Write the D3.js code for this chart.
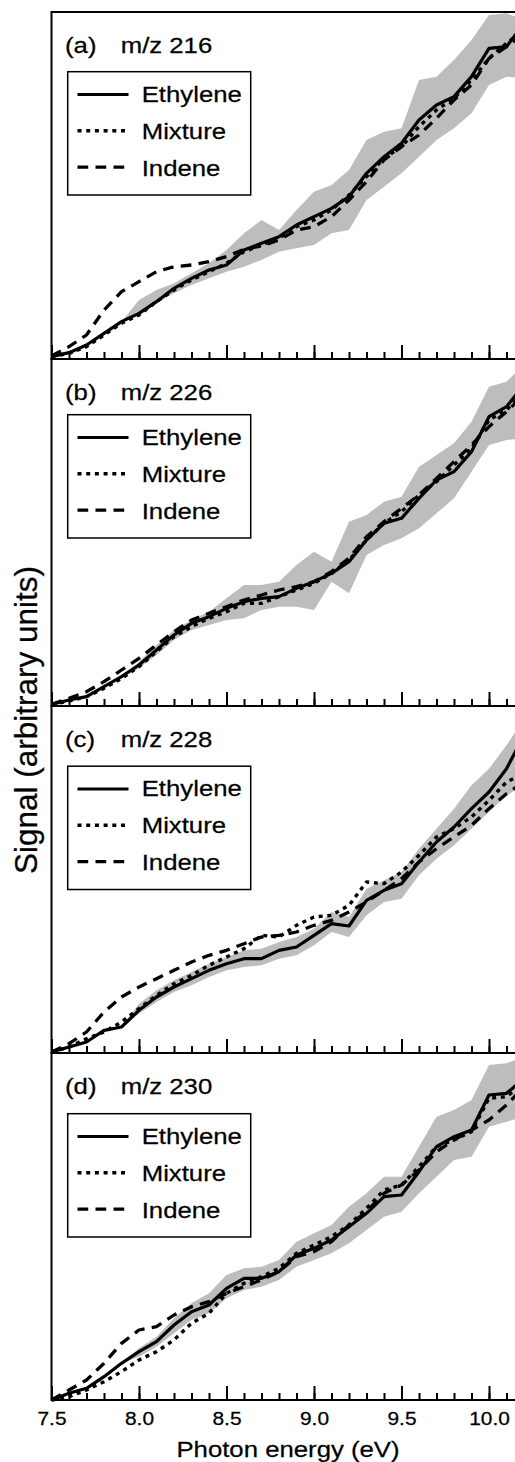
<!DOCTYPE html>
<html>
<head>
<meta charset="utf-8">
<script src="https://cdn.jsdelivr.net/npm/d3@7.9.0/dist/d3.min.js"></script>
<style>
  html, body { margin: 0; padding: 0; background: #fff; }
  svg { display: block; font-family: "Liberation Sans", Arial, Helvetica, sans-serif; }
  svg text { fill: #000; stroke: #000; stroke-width: 0.25px; }
</style>
</head>
<body>
<svg id="chart" width="515" height="1462"></svg>
<script>
// photon energy grid (eV)
const energy = [7.5, 7.6, 7.7, 7.8, 7.9, 8.0, 8.1, 8.2, 8.3, 8.4, 8.5, 8.6, 8.7, 8.8,
  8.9, 9.0, 9.1, 9.2, 9.3, 9.4, 9.5, 9.6, 9.7, 9.8, 9.9, 10.0, 10.1, 10.2];

const panelTags = ['(a)', '(b)', '(c)', '(d)'];
const massLabels = ['m/z 216', 'm/z 226', 'm/z 228', 'm/z 230'];
const seriesNames = ['Ethylene', 'Mixture', 'Indene'];
const majorTicks = [7.5, 8.0, 8.5, 9.0, 9.5, 10.0];

// (a) m/z 216
const ethyleneA = [0.7, 1.9, 4.2, 7.7, 11.2, 13.7, 17.2, 21.2, 24.2, 26.7, 28.2, 32.7, 34.7, 36.7,
  40.2, 42.7, 45.2, 48.7, 55.7, 60.7, 64.7, 71.7, 76.2, 78.7, 84.7, 93.2, 93.7, 100.7];
const mixtureA = [0.7, 1.7, 3.7, 7.2, 10.7, 13.2, 17.2, 20.7, 23.7, 26.2, 28.7, 32.2, 34.2, 36.2,
  39.7, 41.7, 44.7, 49.2, 54.7, 60.2, 63.7, 69.7, 74.7, 78.2, 83.7, 90.2, 94.7, 98.7];
const indeneA = [0.9, 3.7, 7.2, 14.7, 20.2, 23.2, 26.2, 27.7, 28.2, 29.2, 30.7, 32.9, 33.9, 35.7,
  38.7, 39.7, 42.7, 47.7, 53.2, 59.7, 63.7, 67.2, 72.2, 77.7, 82.2, 90.2, 93.7, 97.7];
const bandLowA = [0.7, 1.9, 4.2, 7.7, 11.2, 13.2, 16.7, 19.7, 22.2, 24.2, 26.2, 27.7, 29.7, 32.2,
  33.2, 34.2, 37.7, 38.7, 47.7, 51.7, 55.7, 60.7, 65.7, 69.2, 73.7, 82.2, 84.7, 84.2];
const bandHighA = [0.7, 1.9, 4.2, 7.7, 11.2, 17.7, 20.7, 22.7, 25.7, 28.7, 32.7, 37.7, 41.7, 38.7,
  44.7, 50.2, 52.2, 56.7, 65.7, 68.2, 69.2, 83.7, 84.7, 89.7, 95.7, 103.2, 103.7, 101.7];

// (b) m/z 226
const ethyleneB = [0.5, 1.8, 2.8, 5.8, 8.8, 12.3, 16.8, 21.3, 24.8, 26.8, 29.3, 31.3, 32.3, 32.8,
  35.3, 37.3, 39.8, 43.3, 49.8, 54.8, 56.3, 62.3, 67.8, 70.3, 76.3, 86.8, 89.8, 96.3];
const mixtureB = [0.5, 1.5, 2.8, 5.3, 8.3, 11.8, 16.3, 20.8, 23.8, 26.3, 28.3, 30.8, 30.8, 32.8,
  34.8, 36.8, 39.8, 43.8, 49.8, 54.8, 58.3, 63.3, 67.3, 72.3, 77.3, 85.8, 88.8, 94.3];
const indeneB = [0.5, 2.3, 4.3, 7.3, 10.8, 14.3, 18.3, 22.3, 25.8, 27.8, 29.8, 31.8, 33.3, 34.8,
  35.8, 37.3, 40.3, 44.3, 50.8, 55.3, 59.3, 63.3, 68.3, 73.3, 78.3, 83.8, 88.3, 93.3];
const bandLowB = [0.5, 1.8, 2.8, 5.8, 8.8, 11.3, 15.3, 19.8, 22.8, 24.3, 25.8, 26.3, 28.8, 29.8,
  29.8, 28.8, 37.3, 33.8, 45.3, 48.3, 50.3, 53.3, 57.8, 62.3, 70.3, 78.3, 79.8, 80.3];
const bandHighB = [0.5, 1.8, 2.8, 5.8, 8.8, 13.3, 18.3, 22.8, 25.8, 28.3, 32.3, 36.3, 36.3, 37.3,
  42.3, 46.3, 43.3, 55.3, 57.3, 61.3, 62.8, 71.8, 75.3, 78.8, 85.3, 95.8, 97.3, 102.3];

// (c) m/z 228
const ethyleneC = [0.3, 1.8, 3.3, 6.8, 7.8, 12.8, 16.8, 19.8, 22.3, 24.8, 26.8, 28.3, 28.3, 30.8,
  31.8, 35.3, 38.8, 38.1, 45.8, 48.8, 50.8, 57.3, 63.3, 67.8, 73.3, 78.3, 85.3, 95.3];
const mixtureC = [0.3, 1.8, 4.3, 6.3, 9.3, 13.3, 17.3, 20.8, 23.3, 26.3, 28.8, 31.3, 35.3, 34.8,
  38.3, 40.8, 41.3, 44.3, 51.3, 50.8, 54.3, 59.3, 64.8, 67.3, 70.8, 75.8, 81.3, 83.8];
const indeneC = [0.3, 2.8, 6.3, 12.3, 16.8, 19.8, 22.3, 24.8, 27.3, 29.3, 30.8, 32.8, 34.8, 35.3,
  36.3, 38.3, 39.8, 42.3, 45.3, 48.8, 52.3, 57.3, 61.3, 64.8, 68.3, 73.3, 77.8, 81.3];
const bandLowC = [0.3, 1.8, 3.3, 6.8, 7.8, 11.8, 15.3, 18.3, 20.3, 22.8, 24.8, 25.8, 26.3, 28.3,
  29.3, 32.3, 36.3, 34.8, 41.3, 45.3, 46.3, 53.3, 58.3, 62.3, 67.3, 72.3, 77.3, 80.3];
const bandHighC = [0.3, 1.8, 3.3, 6.8, 7.8, 14.8, 18.8, 21.8, 24.3, 26.8, 28.8, 30.8, 31.3, 33.3,
  34.8, 37.3, 42.3, 40.8, 49.3, 51.8, 54.3, 61.3, 67.3, 73.3, 80.3, 85.3, 92.3, 100.3];

// (d) m/z 230
const ethyleneD = [0, 2, 3.5, 7, 11, 14.5, 17.5, 22.5, 26.5, 28.5, 33.5, 36.5, 36.5, 38.5,
  43.5, 45.5, 48, 52, 56, 61, 61.5, 68.5, 76, 79, 81, 91.5, 92, 96.5];
const mixtureD = [0, 1, 3, 5.5, 8.5, 12, 14.5, 18, 23, 26, 32, 35, 37, 39.5,
  44, 46.5, 49, 52.5, 57.5, 63, 64.5, 70, 76, 78, 80.5, 90.5, 91, 95];
const indeneD = [0, 3, 6, 11, 17, 21, 22, 25.5, 28, 29.5, 32, 34, 36, 38.5,
  43, 44.5, 47.5, 52.5, 56.5, 62, 64.5, 69, 74.5, 78, 81, 84, 88.5, 94];
const bandLowD = [0, 2, 3.5, 7, 11, 13, 16, 20, 24, 26, 30.5, 33, 34, 36,
  40, 42, 44, 47, 51, 55, 56.5, 62, 67, 72, 73, 82, 83.5, 85];
const bandHighD = [0, 2, 3.5, 7, 11, 15.5, 19, 24.5, 29, 32, 37.5, 39.5, 40, 42,
  47.5, 50, 52.5, 58, 62, 67, 67, 76, 85, 87, 90, 100.5, 101, 103];

const panelSeries = [
  { lines: [ethyleneA, mixtureA, indeneA], low: bandLowA, high: bandHighA, legendDy: 0 },
  { lines: [ethyleneB, mixtureB, indeneB], low: bandLowB, high: bandHighB, legendDy: -4 },
  { lines: [ethyleneC, mixtureC, indeneC], low: bandLowC, high: bandHighC, legendDy: 0.5 },
  { lines: [ethyleneD, mixtureD, indeneD], low: bandLowD, high: bandHighD, legendDy: 1 }
];

const dashes = [null, '4,4.7', '10.7,7.3'];
const widths = [3.2, 3.4, 3.3];
const stretch = 'scale(1.17,1)';

const svg = d3.select('#chart');
const left = 51.5;
const firstTop = 12;
const panelH = 347;

const x = d3.scaleLinear().domain([7.5, 10.2]).range([left, 524]);

panelSeries.forEach((p, i) => {
  const top = firstTop + i * panelH;
  const bottom = top + panelH;
  const y = d3.scaleLinear().domain([0, 104.1]).range([bottom, top]);
  const g = svg.append('g');

  let band = d3.area()
    .x((d, k) => x(energy[k]))
    .y0((d, k) => y(p.low[k]))
    .y1((d, k) => y(p.high[k]));
  g.append('path')
    .attr('d', band(energy))
    .attr('fill', '#bdbdbd');

  p.lines.forEach((vals, s) => {
    let line = d3.line()
      .x((d, k) => x(energy[k]))
      .y((d) => y(d));
    g.append('path')
      .attr('d', line(vals))
      .attr('fill', 'none')
      .attr('stroke', '#000')
      .attr('stroke-width', widths[s])
      .attr('stroke-linejoin', 'round')
      .attr('stroke-dasharray', dashes[s]);
  });

  // minor ticks
  let minor = g.append('g')
    .attr('transform', `translate(0,${bottom})`)
    .call(d3.axisBottom(x).tickValues(energy.filter((e) => e <= 10.15))
      .tickSizeInner(-7).tickSizeOuter(0).tickFormat(''));
  minor.select('.domain').remove();
  minor.selectAll('line').attr('stroke-width', 2);

  // major ticks
  let major = g.append('g')
    .attr('transform', `translate(0,${bottom})`)
    .call(d3.axisBottom(x).tickValues(majorTicks)
      .tickSizeInner(-14).tickSizeOuter(0).tickPadding(12)
      .tickFormat(i === 3 ? d3.format('.1f') : ''));
  major.select('.domain').remove();
  major.selectAll('line').attr('stroke-width', 2);
  major.selectAll('text')
    .attr('font-size', 18.5)
    .attr('font-family', '"Liberation Sans", Arial, sans-serif')
    .attr('fill', '#000')
    .attr('transform', 'scale(1.13,1)');

  // frame
  g.append('path')
    .attr('d', `M530,${top}H${left}V${bottom}H530`)
    .attr('fill', 'none')
    .attr('stroke', '#000')
    .attr('stroke-width', 2);

  // panel label
  g.append('text')
    .attr('transform', `translate(65,${top + 41}) ${stretch}`)
    .attr('font-size', 22)
    .text(panelTags[i]);
  g.append('text')
    .attr('transform', `translate(120.7,${top + 41}) ${stretch}`)
    .attr('font-size', 22)
    .text(massLabels[i]);

  // legend
  const boxTop = top + 59.7 + p.legendDy;
  g.append('rect')
    .attr('x', 67.7)
    .attr('y', boxTop)
    .attr('width', 183)
    .attr('height', 123.3)
    .attr('fill', '#fff')
    .attr('stroke', '#000')
    .attr('stroke-width', 1.5);

  seriesNames.forEach((name, s) => {
    g.append('line')
      .attr('x1', 77.5)
      .attr('x2', 128.5)
      .attr('y1', boxTop + 22.8 + s * 36.3)
      .attr('y2', boxTop + 22.8 + s * 36.3)
      .attr('stroke', '#000')
      .attr('stroke-width', widths[s])
      .attr('stroke-dasharray', dashes[s]);
    g.append('text')
      .attr('transform', `translate(141.7,${boxTop + 30 + s * 37}) ${stretch}`)
      .attr('font-size', 22)
      .text(name);
  });
});

svg.append('text')
  .attr('transform', `translate(288,1457) ${stretch}`)
  .attr('text-anchor', 'middle')
  .attr('font-size', 22)
  .text('Photon energy (eV)');

svg.append('text')
  .attr('transform', 'translate(36.5,720) rotate(-90)')
  .attr('text-anchor', 'middle')
  .attr('font-size', 31.5)
  .text('Signal (arbitrary units)');
</script>
</body>
</html>
